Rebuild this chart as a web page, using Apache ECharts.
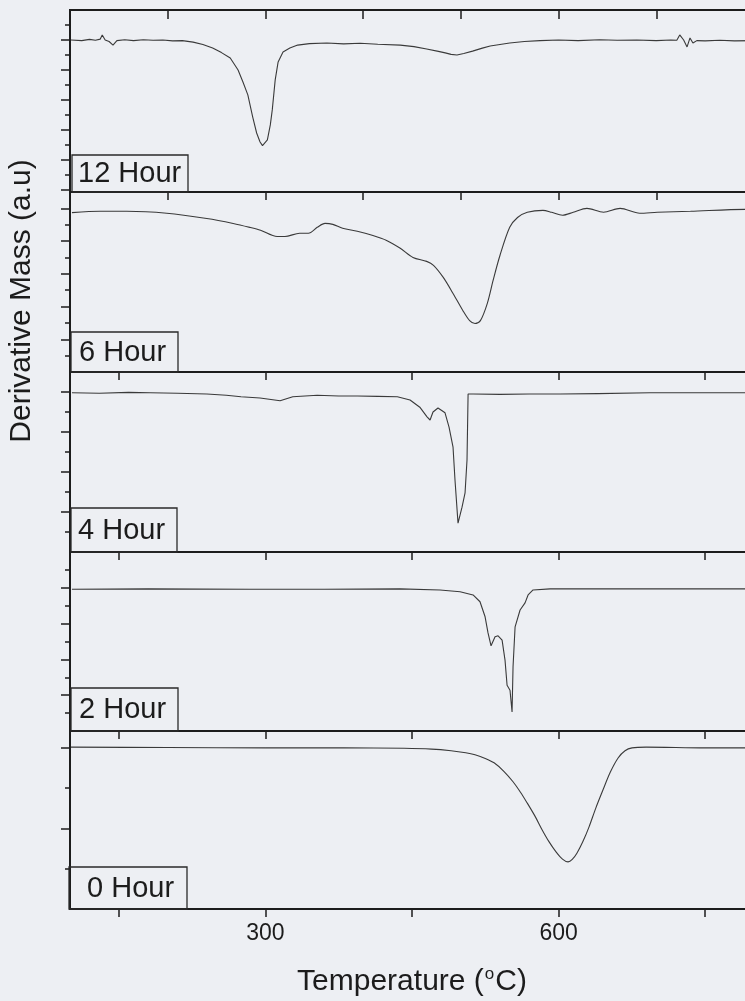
<!DOCTYPE html>
<html><head><meta charset="utf-8">
<script src="https://cdn.jsdelivr.net/npm/echarts@6/dist/echarts.min.js"></script>
<style>html,body{margin:0;padding:0;background:#edeff3;overflow:hidden;} #c{width:800px;height:1001px;}</style>
</head><body><div id="c"></div>
<script>
// ---- data (temperature in °C, derivative mass in a.u., baseline = 0) ----
const panelNames = ['12 Hour', '6 Hour', '4 Hour', '2 Hour', '0 Hour'];

const temp12 = [101,112,120,126,131,133,136,140,144,148,156,165,175,185,195,205,215,226,236,246,255,264,272,277,282,287,291,294.5,297,299,302,305,307,310,313,318,325,333,345,363,380,397,415,438,452,465,477,484,490,496,503,512,522,530,540,550,565,581,600,620,642,660,680,700,715,721,724,728,731.5,734.5,737.5,741.5,750,765,780,800];
const dm12   = [0,-0.02,0.02,-0.01,0.03,0.17,0,-0.05,-0.17,-0.02,0.01,-0.02,0.01,-0.01,0,-0.03,-0.02,-0.07,-0.15,-0.27,-0.42,-0.6,-1.0,-1.4,-1.83,-2.57,-3.1,-3.4,-3.52,-3.53,-3.33,-2.83,-2.33,-1.33,-0.73,-0.4,-0.27,-0.17,-0.12,-0.1,-0.13,-0.11,-0.14,-0.17,-0.22,-0.3,-0.38,-0.43,-0.48,-0.5,-0.45,-0.37,-0.27,-0.2,-0.15,-0.1,-0.05,-0.02,0,-0.02,0.01,-0.01,0,-0.02,0,-0.01,0.17,0,-0.23,0.07,-0.1,-0.02,-0.03,-0.01,-0.03,-0.02];

const temp6 = [102,131,158,199,240,267,284,295,312,320,335,344,353,361,369,379,394,410,424,438,451,465,472,482,492,502,509,514.5,520,527,533,540,550,558,568,584,593,604,615,629,646,663,683,701,735,791,800];
const dm6   = [-0.13,-0.09,-0.09,-0.15,-0.31,-0.46,-0.58,-0.67,-0.86,-0.86,-0.76,-0.76,-0.58,-0.46,-0.49,-0.61,-0.70,-0.83,-0.98,-1.22,-1.50,-1.62,-1.74,-2.11,-2.60,-3.12,-3.43,-3.52,-3.43,-2.91,-2.20,-1.44,-0.58,-0.28,-0.12,-0.06,-0.12,-0.21,-0.12,0,-0.12,0,-0.15,-0.12,-0.09,-0.03,-0.03];

const temp4 = [102,130,160,182,210,240,260,275,294.5,315,328,353,375,394,415,435,448,458,465.4,468.5,471.5,476.6,483.8,487.9,492,494,497.1,501.2,504.3,506.3,507.4,512.5,540,570,601.5,640,693.6,740,800];
const dm4   = [-0.02,-0.03,-0.01,-0.02,-0.03,-0.05,-0.08,-0.12,-0.15,-0.22,-0.12,-0.08,-0.1,-0.1,-0.11,-0.12,-0.2,-0.38,-0.62,-0.7,-0.5,-0.4,-0.52,-0.88,-1.38,-2.2,-3.28,-2.88,-2.52,-1.7,-0.05,-0.05,-0.06,-0.05,-0.05,-0.04,-0.02,-0.02,-0.02];

const temp2 = [102,180,284,360,437.8,478.7,499.2,512.5,519.6,524.8,527.8,530.9,535,538.1,542.2,545.2,547.3,550.3,552.4,553.4,555.5,560.6,565.7,568.8,573.9,591.3,650,720,800];
const dm2   = [-0.04,-0.03,-0.04,-0.04,-0.03,-0.06,-0.11,-0.2,-0.39,-0.81,-1.26,-1.62,-1.37,-1.34,-1.46,-2.02,-2.72,-2.86,-3.47,-2.21,-1.09,-0.62,-0.42,-0.2,-0.06,-0.03,-0.03,-0.03,-0.03];

const temp0 = [101,200,300,380,442,470,490,505,514.5,525,534,544,553.4,561,567.7,576,583.1,590,597.4,604,609.7,614,618.9,625,631.2,638,645.5,653,660.9,668,675.2,689.5,750,800];
const dm0   = [0.02,0.01,0,0,-0.01,-0.03,-0.07,-0.12,-0.17,-0.26,-0.37,-0.58,-0.84,-1.1,-1.36,-1.7,-2.03,-2.32,-2.58,-2.76,-2.83,-2.77,-2.61,-2.32,-1.96,-1.5,-1.04,-0.6,-0.25,-0.07,0,0.02,0,0];

// tick values
const xTicksTop = [200, 300, 400, 500, 600, 700];
const xTicks = [150, 300, 450, 600, 750];
const xLabelValues = [300, 600];
const yMajor = [[0,-1,-2,-3,-4,-5],[0,-1,-2,-3,-4],[0,-1,-2,-3],[0,-1,-2,-3],[0,-2]];
const yMinor = [[0.5,-0.5,-1.5,-2.5,-3.5,-4.5],[-0.5,-1.5,-2.5,-3.5,-4.5],[-0.5,-1.5,-2.5,-3.5],[0.5,-0.5,-1.5,-2.5,-3.5],[-1,-3]];
const yRange = [[-5.0667,1],[-5,0.5],[-4,0.5],[-4,1],[-4,0.42]];

// ---- layout / style ----
const temps = [temp12, temp6, temp4, temp2, temp0];
const vals = [dm12, dm6, dm4, dm2, dm0];
const layout = [{top:10,height:182},{top:192,height:180},{top:372,height:180},{top:552,height:179},{top:731,height:178}];
const boxes = [[72,155,116,37,78],[71,332,107,40,79],[71,508,106,44,78],[71,688,107,43,79],[69,867,118,42,87]];
const ink = '#1c1c1c';
const FONT = "'Liberation Sans', Arial, sans-serif";

const grids = [], xAxes = [], yAxes = [], series = [], graphics = [];
for (let i = 0; i < 5; i++) {
  grids.push({left:70, width:684, top:layout[i].top, height:layout[i].height, show:true,
    containLabel:false, outerBoundsMode:'none',
    borderColor:ink, borderWidth:2, backgroundColor:'transparent'});
  xAxes.push({type:'value', gridIndex:i, min:100, max:800, position:'bottom',
    axisLine:{show:true, onZero:false, lineStyle:{color:ink, width:2}},
    axisTick:{show:true, inside:false, length:8, lineStyle:{color:ink, width:1.5},
      customValues: i === 0 ? xTicksTop : xTicks},
    axisLabel:{show:i === 4, customValues:xLabelValues, margin:13,
      fontFamily:FONT, fontSize:23, color:ink},
    splitLine:{show:false},
    name: i === 4 ? 'Temperature ({sup|o}C)' : '',
    nameLocation:'middle', nameGap:57,
    nameTextStyle:{fontFamily:FONT, fontSize:30, color:ink,
      rich:{sup:{fontFamily:FONT, fontSize:17, color:ink, verticalAlign:'top', padding:[0,1,14,1]}}}
  });
  const base = {type:'value', gridIndex:i, min:yRange[i][0], max:yRange[i][1],
    axisLabel:{show:false}, splitLine:{show:false}};
  yAxes.push(Object.assign({}, base, {position:'left',
    axisLine:{show:true, onZero:false, lineStyle:{color:ink, width:2}},
    axisTick:{show:true, inside:false, length:9, lineStyle:{color:ink, width:1.5}, customValues:yMajor[i]}}));
  yAxes.push(Object.assign({}, base, {position:'left',
    axisLine:{show:false, onZero:false},
    axisTick:{show:true, inside:false, length:5, lineStyle:{color:ink, width:1.5}, customValues:yMinor[i]}}));
  yAxes.push(Object.assign({}, base, {position:'right',
    axisLine:{show:true, onZero:false, lineStyle:{color:ink, width:2}},
    axisTick:{show:true, inside:true, length:9, lineStyle:{color:ink, width:1.5}, customValues:yMajor[i]}}));
  const smooth = (i === 1 || i === 4) ? 0.3 : false;
  series.push({type:'line', xAxisIndex:i, yAxisIndex:3*i, showSymbol:false, symbol:'none',
    smooth:smooth, animation:false, silent:true,
    lineStyle:{color:'#3a3a3a', width:1.1},
    data: temps[i].map((t, k) => [t, vals[i][k]])});
  const b = boxes[i];
  graphics.push({type:'rect', shape:{x:b[0], y:b[1], width:b[2], height:b[3]},
    style:{fill:'none', stroke:'#2a2a2a', lineWidth:1.3}, z:10});
  graphics.push({type:'text', x:b[4], y:b[1] + b[3] / 2 + 0.5,
    style:{text:panelNames[i], font:"29px " + FONT, fill:ink, textVerticalAlign:'middle'}, z:10});
}
// top axis of first panel
xAxes.push({type:'value', gridIndex:0, min:100, max:800, position:'top',
  axisLine:{show:true, onZero:false, lineStyle:{color:ink, width:2}},
  axisTick:{show:true, inside:true, length:9, lineStyle:{color:ink, width:1.5}, customValues:xTicksTop},
  axisLabel:{show:false}, splitLine:{show:false}});

graphics.push({type:'text', x:22, y:301, rotation:Math.PI / 2,
  style:{text:'Derivative Mass (a.u)', font:"30px " + FONT, fill:ink,
    textAlign:'center', textVerticalAlign:'middle'}});

const chart = echarts.init(document.getElementById('c'), null, {renderer:'canvas'});
chart.setOption({backgroundColor:'#edeff3', animation:false,
  grid:grids, xAxis:xAxes, yAxis:yAxes, series:series, graphic:graphics});
</script>
</body></html>
